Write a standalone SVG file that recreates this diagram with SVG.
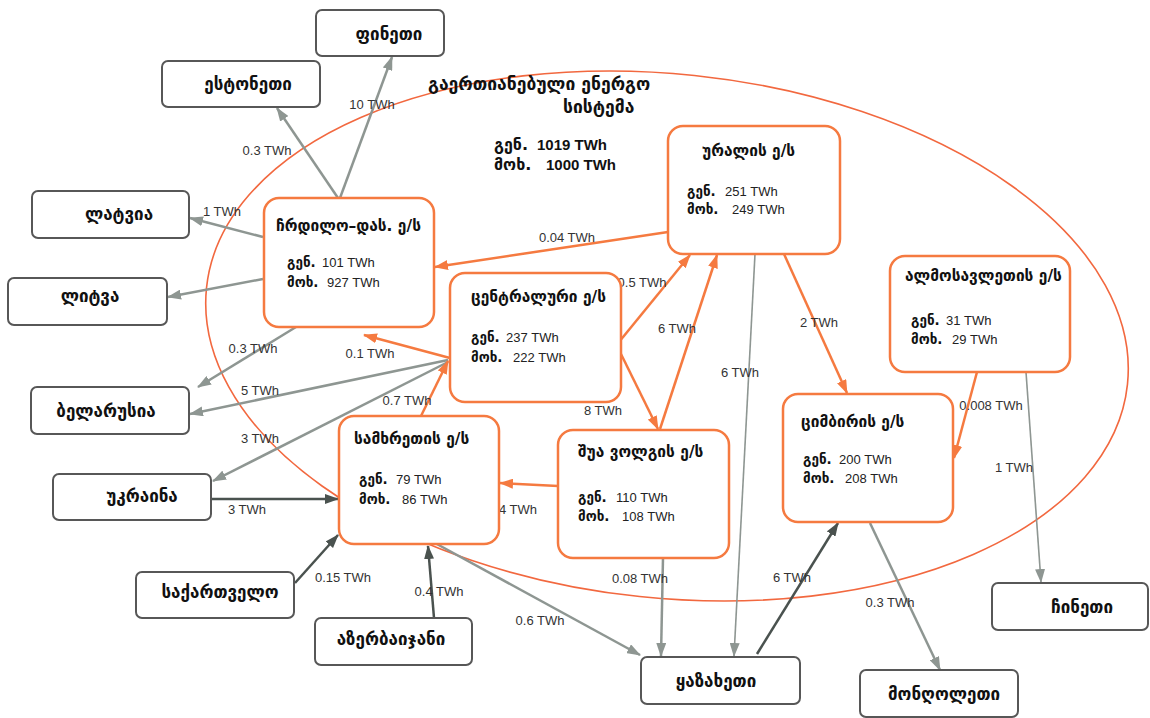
<svg xmlns="http://www.w3.org/2000/svg" width="1150" height="718" viewBox="0 0 1150 718">
<defs>
<style>
.bg{fill:#ffffff}
.ell{fill:none;stroke:#f2683f;stroke-width:1.6}
.cbox{fill:#fff;stroke:#575757;stroke-width:2}
.rbox{fill:#fff;stroke:#f57a40;stroke-width:2.5}
.ctext{font-family:"DejaVu Sans",sans-serif;font-weight:bold;font-size:17px;fill:#111;text-anchor:middle}
.rtitle{font-family:"DejaVu Sans",sans-serif;font-weight:bold;font-size:15.5px;fill:#111}
.sub{font-family:"DejaVu Sans",sans-serif;font-weight:bold;font-size:13.5px;fill:#111}
.num{font-family:"Liberation Sans",Arial,sans-serif;font-size:13px;fill:#222}
.sys{font-family:"DejaVu Sans",sans-serif;font-size:17.5px;fill:#111;font-weight:bold}
.sysn{font-family:"Liberation Sans",Arial,sans-serif;font-size:15px;font-weight:bold;fill:#111}
.sysl{font-family:"DejaVu Sans",sans-serif;font-size:16px;font-weight:bold;fill:#111}
.lbl{font-family:"Liberation Sans",Arial,sans-serif;font-size:13px;fill:#333;text-anchor:middle}
.g{fill:none;stroke:#8e9692;stroke-width:2.5;marker-end:url(#ag)}
.gt{fill:none;stroke:#8e9692;stroke-width:1.6;marker-end:url(#ag)}
.d{fill:none;stroke:#4a524f;stroke-width:2.5;marker-end:url(#ad)}
.o{fill:none;stroke:#f57a40;stroke-width:2.5;marker-end:url(#ao)}
</style>
<marker id="ag" viewBox="0 0 14 10" refX="13" refY="5" markerWidth="14" markerHeight="10" markerUnits="userSpaceOnUse" orient="auto"><path d="M0,0 L14,5 L0,10 z" fill="#8e9692"/></marker>
<marker id="ad" viewBox="0 0 14 10" refX="13" refY="5" markerWidth="14" markerHeight="10" markerUnits="userSpaceOnUse" orient="auto"><path d="M0,0 L14,5 L0,10 z" fill="#4a524f"/></marker>
<marker id="ao" viewBox="0 0 14 10" refX="13" refY="5" markerWidth="14" markerHeight="10" markerUnits="userSpaceOnUse" orient="auto"><path d="M0,0 L14,5 L0,10 z" fill="#f57a40"/></marker>
</defs>
<rect class="bg" x="0" y="0" width="1150" height="718"/>

<g id="system">
<ellipse class="ell" cx="667" cy="336" rx="463" ry="262" transform="rotate(6 667 336)"/>
<text class="sys" x="428" y="90">გაერთიანებული ენერგო</text>
<text class="sys" x="563" y="113">სისტემა</text>
<text x="494" y="150"><tspan class="sysl">გენ.</tspan><tspan class="sysn" x="537">1019 TWh</tspan></text>
<text x="494" y="170"><tspan class="sysl">მოხ.</tspan><tspan class="sysn" x="546">1000 TWh</tspan></text>
</g>

<g id="connectors">
<path class="g" d="M340,198 L392,57"/>
<path class="g" d="M338,198 L277,108"/>
<path class="g" d="M263,237 L190,218"/>
<path class="g" d="M263,279 L168,297"/>
<path class="g" d="M296,327 L198,387"/>
<path class="g" d="M448,360 L190,414"/>
<path class="g" d="M448,362 L213,481"/>
<path class="d" d="M212,499 L338,499"/>
<path class="d" d="M295,583 L338,535"/>
<path class="d" d="M434,618 L428,546"/>
<path class="g" d="M435,543 L640,655"/>
<path class="g" d="M663,558 L661,656"/>
<path class="gt" d="M755,254 L734,656"/>
<path class="d" d="M757,654 L838,523"/>
<path class="g" d="M870,523 L940,670"/>
<path class="gt" d="M1026,372 L1041,582"/>
<path class="o" d="M977,372 L954,458"/>
<path class="o" d="M784,254 L847,393"/>
<path class="o" d="M668,232 L435,267"/>
<path class="o" d="M619,342 L690,255"/>
<path class="o" d="M660,429 L717,255"/>
<path class="o" d="M619,350 L658,429"/>
<path class="o" d="M450,358 L364,335"/>
<path class="o" d="M421,416 L448,361"/>
<path class="o" d="M558,486 L500,483"/>
<text class="lbl" x="372" y="109">10 TWh</text>
<text class="lbl" x="267" y="155">0.3 TWh</text>
<text class="lbl" x="222" y="216">1 TWh</text>
<text class="lbl" x="253" y="353">0.3 TWh</text>
<text class="lbl" x="260" y="395">5 TWh</text>
<text class="lbl" x="260" y="443">3 TWh</text>
<text class="lbl" x="247" y="514">3 TWh</text>
<text class="lbl" x="343" y="582">0.15 TWh</text>
<text class="lbl" x="439" y="596">0.4 TWh</text>
<text class="lbl" x="540" y="625">0.6 TWh</text>
<text class="lbl" x="640" y="583">0.08 TWh</text>
<text class="lbl" x="740" y="377">6 TWh</text>
<text class="lbl" x="792" y="582">6 TWh</text>
<text class="lbl" x="890" y="607">0.3 TWh</text>
<text class="lbl" x="1014" y="472">1 TWh</text>
<text class="lbl" x="991" y="410">0.008 TWh</text>
<text class="lbl" x="819" y="327">2 TWh</text>
<text class="lbl" x="567" y="242">0.04 TWh</text>
<text class="lbl" x="642" y="287">0.5 TWh</text>
<text class="lbl" x="677" y="333">6 TWh</text>
<text class="lbl" x="603" y="415">8 TWh</text>
<text class="lbl" x="370" y="358">0.1 TWh</text>
<text class="lbl" x="407" y="405">0.7 TWh</text>
<text class="lbl" x="518" y="514">4 TWh</text>
</g>

<g id="finland"><rect class="cbox" x="316" y="10" width="128" height="46" rx="6"/><text class="ctext" x="389" y="40">ფინეთი</text></g>
<g id="estonia"><rect class="cbox" x="162" y="61" width="158" height="46" rx="6"/><text class="ctext" x="248" y="90">ესტონეთი</text></g>
<g id="latvia"><rect class="cbox" x="32" y="191" width="157" height="47" rx="6"/><text class="ctext" x="119" y="220">ლატვია</text></g>
<g id="lithuania"><rect class="cbox" x="8" y="278" width="159" height="47" rx="6"/><text class="ctext" x="90" y="302">ლიტვა</text></g>
<g id="belarus"><rect class="cbox" x="31" y="387" width="158" height="47" rx="6"/><text class="ctext" x="106" y="417">ბელარუსია</text></g>
<g id="ukraine"><rect class="cbox" x="53" y="474" width="158" height="46" rx="6"/><text class="ctext" x="142" y="502">უკრაინა</text></g>
<g id="georgia"><rect class="cbox" x="136" y="572" width="158" height="46" rx="6"/><text class="ctext" x="220" y="598">საქართველო</text></g>
<g id="azerbaijan"><rect class="cbox" x="315" y="618" width="157" height="47" rx="6"/><text class="ctext" x="391" y="645">აზერბაიჯანი</text></g>
<g id="kazakhstan"><rect class="cbox" x="641" y="657" width="159" height="47" rx="6"/><text class="ctext" x="716" y="687">ყაზახეთი</text></g>
<g id="mongolia"><rect class="cbox" x="860" y="670" width="158" height="47" rx="6"/><text class="ctext" x="944" y="700">მონღოლეთი</text></g>
<g id="china"><rect class="cbox" x="992" y="583" width="156" height="47" rx="6"/><text class="ctext" x="1082" y="613">ჩინეთი</text></g>

<g id="northwest"><rect class="rbox" x="264" y="198" width="170" height="129" rx="15"/>
<text class="rtitle" x="276" y="231">ჩრდილო–დას. ე/ს</text>
<text x="287" y="267"><tspan class="sub">გენ.</tspan><tspan class="num" x="322">101 TWh</tspan></text>
<text x="287" y="287"><tspan class="sub">მოხ.</tspan><tspan class="num" x="327">927 TWh</tspan></text></g>

<g id="center"><rect class="rbox" x="450" y="273" width="171" height="129" rx="15"/>
<text class="rtitle" x="471" y="302">ცენტრალური ე/ს</text>
<text x="471" y="342"><tspan class="sub">გენ.</tspan><tspan class="num" x="506">237 TWh</tspan></text>
<text x="471" y="362"><tspan class="sub">მოხ.</tspan><tspan class="num" x="513">222 TWh</tspan></text></g>

<g id="ural"><rect class="rbox" x="668" y="126" width="172" height="128" rx="15"/>
<text class="rtitle" x="702" y="156">ურალის ე/ს</text>
<text x="687" y="196"><tspan class="sub">გენ.</tspan><tspan class="num" x="725">251 TWh</tspan></text>
<text x="687" y="214"><tspan class="sub">მოხ.</tspan><tspan class="num" x="732">249 TWh</tspan></text></g>

<g id="east"><rect class="rbox" x="890" y="256" width="180" height="116" rx="15"/>
<text class="rtitle" x="905" y="281">ალმოსავლეთის ე/ს</text>
<text x="911" y="325"><tspan class="sub">გენ.</tspan><tspan class="num" x="946">31 TWh</tspan></text>
<text x="911" y="344"><tspan class="sub">მოხ.</tspan><tspan class="num" x="952">29 TWh</tspan></text></g>

<g id="siberia"><rect class="rbox" x="783" y="394" width="170" height="128" rx="15"/>
<text class="rtitle" x="801" y="427">ციმბირის ე/ს</text>
<text x="803" y="464"><tspan class="sub">გენ.</tspan><tspan class="num" x="839">200 TWh</tspan></text>
<text x="803" y="483"><tspan class="sub">მოხ.</tspan><tspan class="num" x="845">208 TWh</tspan></text></g>

<g id="middlevolga"><rect class="rbox" x="558" y="430" width="171" height="128" rx="15"/>
<text class="rtitle" x="578" y="457">შუა ვოლგის ე/ს</text>
<text x="578" y="502"><tspan class="sub">გენ.</tspan><tspan class="num" x="616">110 TWh</tspan></text>
<text x="578" y="521"><tspan class="sub">მოხ.</tspan><tspan class="num" x="622">108 TWh</tspan></text></g>

<g id="south"><rect class="rbox" x="339" y="416" width="160" height="128" rx="15"/>
<text class="rtitle" x="354" y="444">სამხრეთის ე/ს</text>
<text x="359" y="484"><tspan class="sub">გენ.</tspan><tspan class="num" x="396">79 TWh</tspan></text>
<text x="359" y="504"><tspan class="sub">მოხ.</tspan><tspan class="num" x="402">86 TWh</tspan></text></g>
</svg>
